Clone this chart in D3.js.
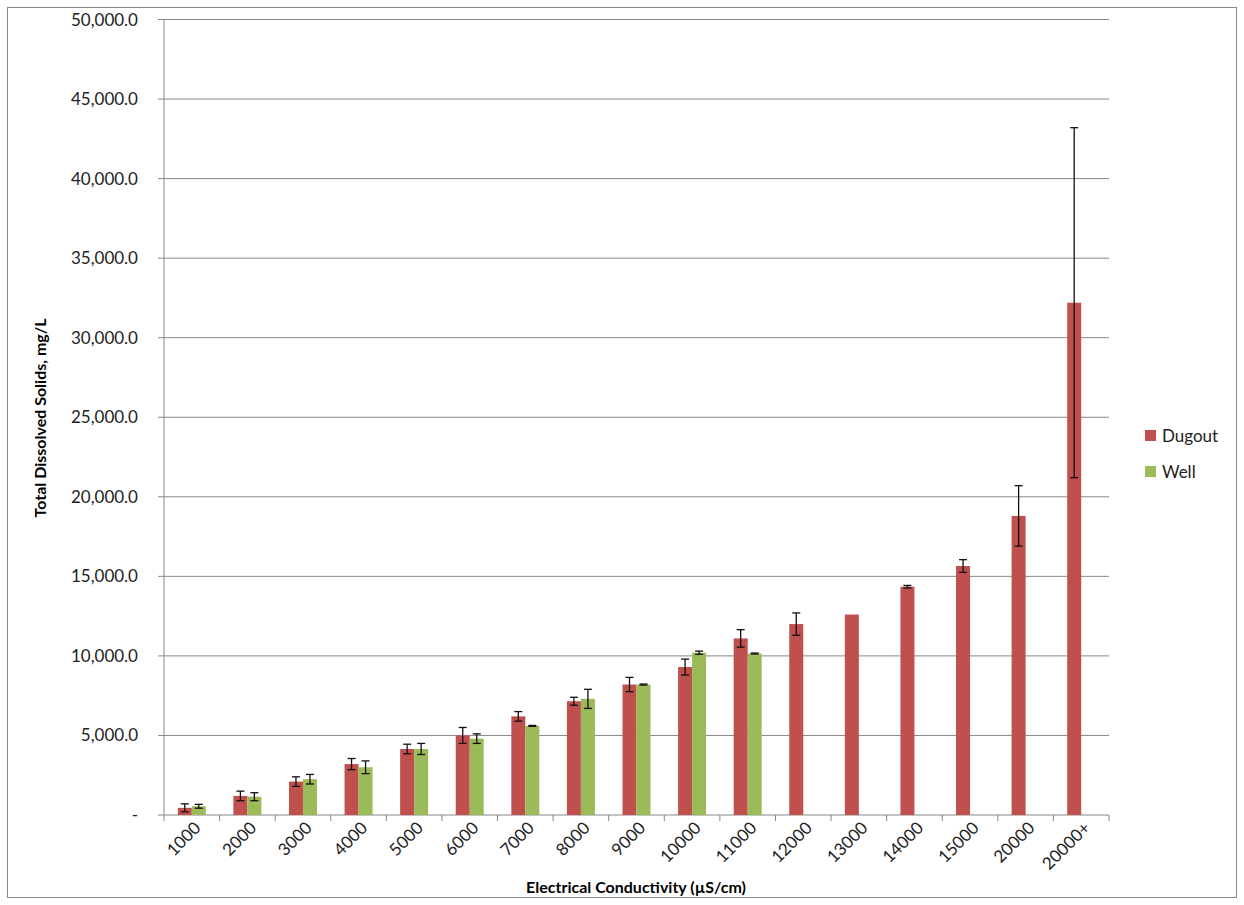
<!DOCTYPE html>
<html><head><meta charset="utf-8">
<script src="https://cdn.jsdelivr.net/npm/d3@7"></script>
<style>body{margin:0;background:#fff;font-family:Lato,"Open Sans",sans-serif;}</style>
</head><body><svg id="chart" width="1244" height="905"></svg>
<script>
const categories = ["1000","2000","3000","4000","5000","6000","7000","8000","9000","10000","11000","12000","13000","14000","15000","20000","20000+"];
const dugout    = [450,1200,2100,3200,4150,5000,6200,7150,8200,9300,11100,12000,12600,14350,15650,18800,32200];
const dugoutErr = [250,300,300,350,300,500,300,250,450,500,550,700,0,80,400,1900,11000];
const well      = [550,1150,2250,3000,4150,4800,5600,7300,8200,10200,10150,null,null,null,null,null,null];
const wellErr   = [120,250,300,400,350,300,30,600,30,100,30,null,null,null,null,null,null];
const yTicks = [0,5000,10000,15000,20000,25000,30000,35000,40000,45000,50000];

const svg = d3.select("#chart");
svg.append("rect").attr("x",7.5).attr("y",7.5).attr("width",1229).attr("height",890)
  .attr("fill","none").attr("stroke","#888");

const m = {left:164, right:1109, top:19.5, bottom:815};
const x = d3.scaleBand().domain(categories).range([m.left,m.right]);
const y = d3.scaleLinear().domain([0,50000]).range([m.bottom,m.top]);
const bw = 14;

svg.append("g").selectAll("line").data(yTicks.slice(1)).join("line")
  .attr("x1",m.left-6).attr("x2",m.right).attr("y1",d=>y(d)).attr("y2",d=>y(d))
  .attr("stroke","#888").attr("stroke-width",1);
svg.append("line").attr("x1",m.left).attr("x2",m.left).attr("y1",m.top).attr("y2",m.bottom).attr("stroke","#888");
svg.append("line").attr("x1",m.left-6).attr("x2",m.right).attr("y1",m.bottom).attr("y2",m.bottom).attr("stroke","#888");
svg.append("g").selectAll("line").data(categories.concat(["end"])).join("line")
  .attr("x1",(d,i)=>m.left+i*x.bandwidth()).attr("x2",(d,i)=>m.left+i*x.bandwidth())
  .attr("y1",m.bottom).attr("y2",m.bottom+6).attr("stroke","#888");

svg.append("g").selectAll("text").data(yTicks).join("text")
  .attr("x",138).attr("y",d=>y(d)+6).attr("text-anchor","end")
  .attr("font-size",17).attr("fill","#222")
  .text(d=>d===0?"-":d3.format(",.1f")(d));

svg.append("g").selectAll("text").data(categories).join("text")
  .attr("transform",d=>`translate(${x(d)+x.bandwidth()/2+10},${m.bottom+14}) rotate(-45)`)
  .attr("text-anchor","end").attr("font-size",17).attr("fill","#222").text(d=>d);

function series(vals, errs, color, offset){
  const g = svg.append("g");
  const data = vals.map((v,i)=>({c:categories[i],v,e:errs[i]})).filter(d=>d.v!=null);
  g.selectAll("rect").data(data).join("rect")
    .attr("x",d=>x(d.c)+x.bandwidth()/2+offset).attr("width",bw)
    .attr("y",d=>y(d.v)).attr("height",d=>y(0)-y(d.v)).attr("fill",color);
  const eb = data.filter(d=>d.e>0);
  const cx = d=>x(d.c)+x.bandwidth()/2+offset+bw/2;
  g.selectAll("line.v").data(eb).join("line").attr("class","v")
    .attr("x1",cx).attr("x2",cx).attr("y1",d=>y(d.v+d.e)).attr("y2",d=>y(d.v-d.e))
    .attr("stroke","#111").attr("stroke-width",1.3);
  ["t","b"].forEach(k=>{
    g.selectAll("line."+k).data(eb).join("line").attr("class",k)
      .attr("x1",d=>cx(d)-4).attr("x2",d=>cx(d)+4)
      .attr("y1",d=>y(k==="t"?d.v+d.e:d.v-d.e)).attr("y2",d=>y(k==="t"?d.v+d.e:d.v-d.e))
      .attr("stroke","#111").attr("stroke-width",1.3);
  });
}
series(dugout,dugoutErr,"#c0504d",-bw);
series(well,wellErr,"#9bbb59",0);

const legend = [["Dugout","#c0504d"],["Well","#9bbb59"]];
legend.forEach(([n,c],i)=>{
  svg.append("rect").attr("x",1145).attr("y",430+i*36).attr("width",11).attr("height",11).attr("fill",c);
  svg.append("text").attr("x",1162).attr("y",442+i*36).attr("font-size",17).attr("fill","#222").text(n);
});

svg.append("text").attr("x",636).attr("y",893).attr("text-anchor","middle")
  .attr("font-size",16).attr("font-weight","bold").text("Electrical Conductivity (µS/cm)");
svg.append("text").attr("transform","translate(46,418) rotate(-90)").attr("text-anchor","middle")
  .attr("font-size",16).attr("font-weight","bold").text("Total Dissolved Solids, mg/L");
</script></body></html>
